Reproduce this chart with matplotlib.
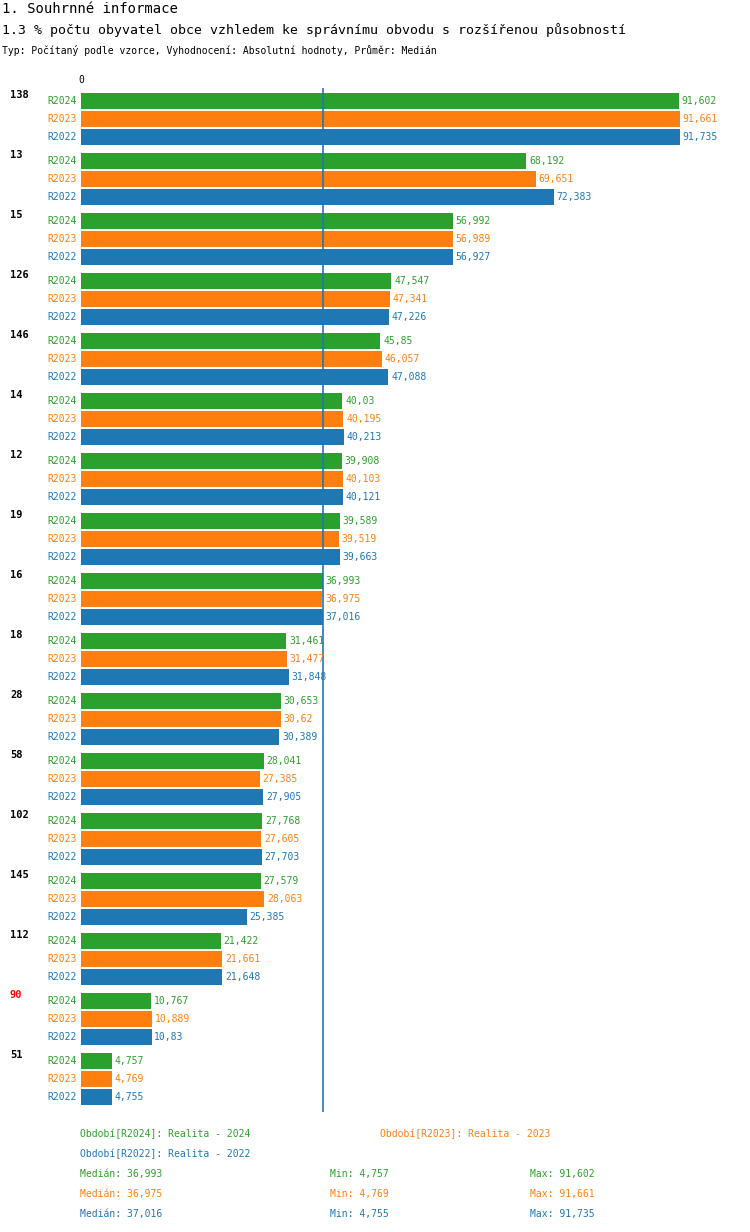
import matplotlib
matplotlib.use("Agg")
import matplotlib.pyplot as plt

groups = ["138","13","15","126","146","14","12","19","16","18","28","58","102","145","112","90","51"]
r2024 = [91.602,68.192,56.992,47.547,45.85,40.03,39.908,39.589,36.993,31.461,30.653,28.041,27.768,27.579,21.422,10.767,4.757]
r2023 = [91.661,69.651,56.989,47.341,46.057,40.195,40.103,39.519,36.975,31.477,30.62,27.385,27.605,28.063,21.661,10.889,4.769]
r2022 = [91.735,72.383,56.927,47.226,47.088,40.213,40.121,39.663,37.016,31.848,30.389,27.905,27.703,25.385,21.648,10.83,4.755]
series = [("R2024", r2024, "#2ca02c"), ("R2023", r2023, "#ff7f0e"), ("R2022", r2022, "#1f77b4")]
median = 36.993

W, H = 750, 1232
fig = plt.figure(figsize=(W/100, H/100), dpi=100)
plt.rcParams['font.family'] = 'DejaVu Sans Mono'
ax = fig.add_axes([81/W, (H-1112)/H, 653/W, 1024/H])
ax.set_xlim(0, 100)
ax.set_ylim(1112, 88)
ax.axis('off')

def fmt(v):
    s = f"{v:.3f}".rstrip('0').rstrip('.')
    return s.replace('.', ',')

for g, name in enumerate(groups):
    for k, (lab, vals, col) in enumerate(series):
        yc = 101 + 60*g + 18*k
        ax.barh(yc, vals[g], height=16, color=col)
        ax.text(vals[g] + 0.4, yc, fmt(vals[g]), color=col, fontsize=7, va='center', ha='left')
        fig.text(47/W, 1 - yc/H, lab, color=col, fontsize=7, va='center', ha='left')
    fig.text(10/W, 1 - (101 + 60*g)/H + 0.001, name, color='red' if name == "90" else 'black',
             fontsize=7.5, fontweight='bold', va='bottom', ha='left')

ax.axvline(median, color="#1f77b4", lw=1.2)
fig.text(81/W, 1 - 80/H, "0", fontsize=7, ha='center', va='center')

fig.text(2/W, 1 - 9/H, "1. Souhrnné informace", fontsize=10, va='center')
fig.text(2/W, 1 - 30/H, "1.3 % počtu obyvatel obce vzhledem ke správnímu obvodu s rozšířenou působností", fontsize=9.5, va='center')
fig.text(2/W, 1 - 50/H, "Typ: Počítaný podle vzorce, Vyhodnocení: Absolutní hodnoty, Průměr: Medián", fontsize=7, va='center')

g_, o_, b_ = "#2ca02c", "#ff7f0e", "#1f77b4"
def t(x, y, s, c):
    fig.text(x/W, 1 - y/H, s, color=c, fontsize=7, va='center')
t(80, 1134, "Období[R2024]: Realita - 2024", g_)
t(380, 1134, "Období[R2023]: Realita - 2023", o_)
t(80, 1154, "Období[R2022]: Realita - 2022", b_)
for i, (vals, c) in enumerate([(r2024, g_), (r2023, o_), (r2022, b_)]):
    y = 1174 + 20*i
    med = sorted(vals)[len(vals)//2]
    t(80, y, "Medián: " + fmt(med), c)
    t(330, y, "Min: " + fmt(min(vals)), c)
    t(530, y, "Max: " + fmt(max(vals)), c)

fig.savefig("out.png", dpi=100)
